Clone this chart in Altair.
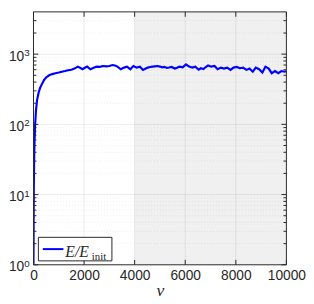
import altair as alt
import pandas as pd

# ---- data ----
v = [0, 5, 12, 25, 40, 64, 100, 140, 200, 260, 340, 420, 500, 620, 740, 868,
     1000, 1120, 1250, 1370, 1500, 1620, 1750, 1840, 1940, 2030, 2120, 2250, 2380,
     2500, 2620, 2750, 2880, 3000, 3130, 3220, 3320, 3450, 3580, 3700, 3830, 3950,
     4080, 4210, 4330, 4420, 4520, 4610, 4710, 4800, 4900, 5000, 5080, 5180, 5270,
     5360, 5460, 5590, 5680, 5770, 5900, 6030, 6150, 6280, 6400, 6530, 6620, 6720,
     6800, 6905, 7030, 7160, 7280, 7410, 7530, 7660, 7790, 7910, 8040, 8160, 8290,
     8420, 8540, 8670, 8790, 8920, 9050, 9170, 9300, 9420, 9550, 9680, 9800, 9930,
     10000]
E = [1, 3, 12, 30, 55, 97, 160, 220, 280, 330, 380, 430, 465, 500, 520, 535,
     548, 562, 575, 590, 600, 623, 664, 640, 610, 640, 664, 610, 640,
     664, 660, 678, 670, 678, 700, 690, 664, 610, 643, 664, 610, 678,
     643, 664, 597, 620, 643, 655, 664, 670, 678, 665, 650, 660, 637,
     645, 657, 623, 640, 664, 650, 714, 664, 643, 664, 600, 630, 615,
     650, 692, 664, 678, 610, 643, 623, 643, 597, 643, 657, 630, 643,
     597, 623, 562, 643, 610, 549, 664, 623, 536, 575, 536, 575, 562,
     570]

x_ticks = [0, 2000, 4000, 6000, 8000, 10000]
x_grid = [2000, 4000, 6000, 8000]
y_major = [1, 10, 100, 1000]
y_exp = ["0", "1", "2", "3"]
y_grid = [10, 100, 1000]
y_minor = [2, 3, 4, 5, 6, 7, 8, 9,
           20, 30, 40, 50, 60, 70, 80, 90,
           200, 300, 400, 500, 600, 700, 800, 900,
           2000, 3000]
shade_start = [4000]
shade_end = [10000]

# ---- layout / style ----
W, H = 258, 258
AX = "#262626"
FONT = "Liberation Sans"
SERIF = "Liberation Serif"

xs = alt.Scale(domain=[0, 10000], nice=False, zero=False)
ys = alt.Scale(type="log", domain=[1, 4000], nice=False)

x_axis = alt.Axis(values=x_ticks, format="d", ticks=False, domain=False, grid=False,
                  labelFont=FONT, labelFontSize=14, labelColor=AX, labelPadding=4,
                  labelOverlap=False, labelFlush=False,
                  titleFont=SERIF, titleFontStyle="italic", titleFontSize=18,
                  titleFontWeight="normal", titleColor=AX, titleY=31,
                  titleBaseline="alphabetic")
y_axis = alt.Axis(values=y_major, labelExpr="'10'", ticks=False, domain=False, grid=False,
                  labelFont=FONT, labelFontSize=14, labelColor=AX, labelPadding=10,
                  labelOffset=2, labelOverlap=False, labelFlush=False,
                  minExtent=26, maxExtent=26)


def X(field):
    return alt.X(f"{field}:Q", scale=xs, axis=x_axis, title="v")


def Y(field):
    return alt.Y(f"{field}:Q", scale=ys, axis=y_axis, title=None)


line_df = pd.DataFrame({"v": v, "E": E})
shade_df = pd.DataFrame({"s": shade_start, "e": shade_end})
xg_df = pd.DataFrame({"val": x_grid})
yg_df = pd.DataFrame({"val": y_grid})
ymin_df = pd.DataFrame({"val": y_minor})
ymaj_df = pd.DataFrame({"val": y_major, "exp": y_exp})
xt_df = pd.DataFrame({"val": x_ticks})

shade = alt.Chart(shade_df).mark_rect(color="#000000", opacity=0.058).encode(
    x=X("s"), x2="e:Q", y=alt.value(0), y2=alt.value(H))

xgrid = alt.Chart(xg_df).mark_rule(color="#000000", opacity=0.08, strokeWidth=1).encode(
    x=X("val"), y=alt.value(0), y2=alt.value(H))

ygrid = alt.Chart(yg_df).mark_rule(color="#000000", opacity=0.08, strokeWidth=1).encode(
    y=Y("val"), x=alt.value(0), x2=alt.value(W))

yminor_grid = alt.Chart(ymin_df).mark_rule(color="#000000", opacity=0.07, strokeWidth=1,
                                           strokeDash=[1, 2]).encode(
    y=Y("val"), x=alt.value(0), x2=alt.value(W))

line = alt.Chart(line_df).mark_line(color="#0000ff", strokeWidth=2.2, clip=True).encode(
    x=X("v"), y=Y("E"))

tick_style = dict(color=AX, strokeWidth=1)
y_tick_l = alt.Chart(ymaj_df).mark_rule(**tick_style).encode(
    y=Y("val"), x=alt.value(0), x2=alt.value(5))
y_tick_r = alt.Chart(ymaj_df).mark_rule(**tick_style).encode(
    y=Y("val"), x=alt.value(W - 5), x2=alt.value(W))
y_mtick_l = alt.Chart(ymin_df).mark_rule(**tick_style).encode(
    y=Y("val"), x=alt.value(0), x2=alt.value(3))
y_mtick_r = alt.Chart(ymin_df).mark_rule(**tick_style).encode(
    y=Y("val"), x=alt.value(W - 3), x2=alt.value(W))
x_tick_b = alt.Chart(xt_df).mark_rule(**tick_style).encode(
    x=X("val"), y=alt.value(H - 5), y2=alt.value(H))
x_tick_t = alt.Chart(xt_df).mark_rule(**tick_style).encode(
    x=X("val"), y=alt.value(0), y2=alt.value(5))

exps = alt.Chart(ymaj_df).mark_text(font=FONT, fontSize=10, color=AX, align="left",
                                    baseline="middle", dy=-1).encode(
    y=Y("val"), x=alt.value(-9.5), text="exp:N")

frame = alt.Chart(shade_df).mark_rect(filled=False, stroke=AX, strokeWidth=1).encode(
    x=alt.value(0), x2=alt.value(W), y=alt.value(0), y2=alt.value(H))

# legend box (drawn by hand, like MATLAB's)
leg_box = alt.Chart(shade_df).mark_rect(fill="#ffffff", stroke=AX, strokeWidth=1).encode(
    x=alt.value(5), x2=alt.value(80), y=alt.value(H - 28), y2=alt.value(H - 4))
leg_line = alt.Chart(shade_df).mark_rule(color="#0000ff", strokeWidth=2).encode(
    x=alt.value(9.5), x2=alt.value(30.5), y=alt.value(H - 16))
leg_txt = alt.Chart(shade_df).mark_text(text="E/E", font=SERIF, fontStyle="italic",
                                        fontSize=16, color=AX, align="left",
                                        baseline="alphabetic").encode(
    x=alt.value(32.5), y=alt.value(H - 7.7))
leg_sub = alt.Chart(shade_df).mark_text(text="init", font=SERIF, fontSize=11,
                                        color=AX, align="left",
                                        baseline="alphabetic").encode(
    x=alt.value(59.5), y=alt.value(H - 5.3))

chart = alt.layer(
    shade, xgrid, ygrid, yminor_grid, line,
    y_tick_l, y_tick_r, y_mtick_l, y_mtick_r, x_tick_b, x_tick_t,
    exps, frame, leg_box, leg_line, leg_txt, leg_sub
).properties(
    width=W, height=H, padding={"left": 0, "top": 0, "right": 0, "bottom": 0}
).configure_view(stroke="transparent")

chart.save("out.html", embed_options={"renderer": "svg", "actions": False})
